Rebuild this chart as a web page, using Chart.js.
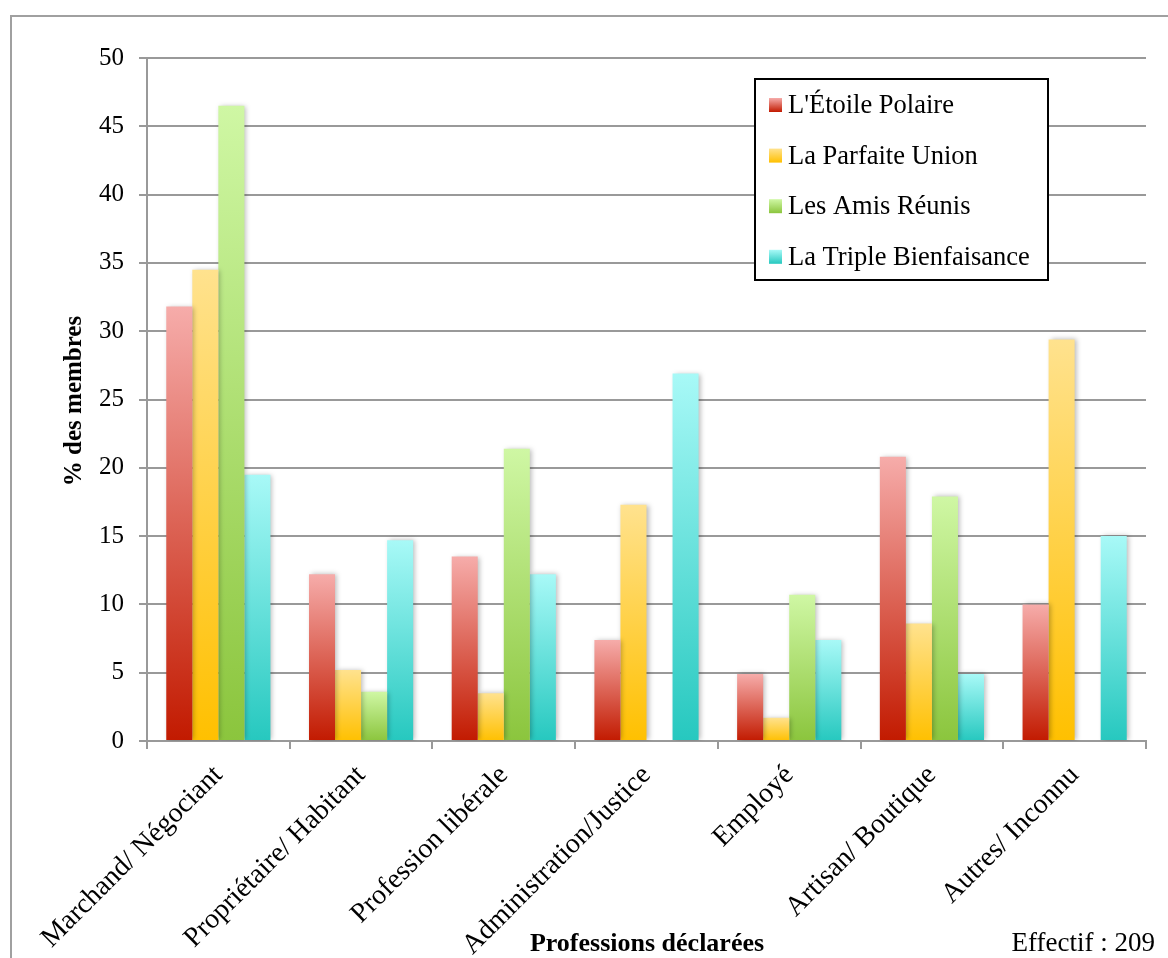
<!DOCTYPE html>
<html>
<head>
<meta charset="utf-8">
<script src="https://cdn.jsdelivr.net/npm/chart.js@4.4.1/dist/chart.umd.min.js"></script>
<style>
  body { margin: 0; background: #fff; }
  canvas { display: block; }
</style>
</head>
<body>
<canvas id="chart" width="1168" height="958"></canvas>
<script>
const categories = ['Marchand/ Négociant', 'Propriétaire/ Habitant', 'Profession libérale',
  'Administration/Justice', 'Employé', 'Artisan/ Boutique', 'Autres/ Inconnu'];
const seriesNames = ["L'Étoile Polaire", 'La Parfaite Union', 'Les Amis Réunis', 'La Triple Bienfaisance'];
const etoilePolaire = [31.8, 12.2, 13.5, 7.4, 4.9, 20.8, 10.0];
const parfaiteUnion = [34.5, 5.2, 3.5, 17.3, 1.7, 8.6, 29.4];
const amisReunis = [46.5, 3.6, 21.4, 0, 10.7, 17.9, 0];
const tripleBienfaisance = [19.5, 14.7, 12.2, 26.9, 7.4, 4.9, 15.0];
const yMin = 0, yMax = 50, yStep = 5;

// light (top) and dark (bottom) colour for each series
const colors = [
  ['#F6ACAA', '#C21A00'],
  ['#FFE28E', '#FFC000'],
  ['#CFF7A4', '#8BC53D'],
  ['#A8F9F7', '#26C8BF']
];

const FONT = "'Liberation Serif', 'DejaVu Serif', serif";

function barGradient(i) {
  return (ctx) => {
    const chart = ctx.chart;
    if (!chart.chartArea || ctx.type !== 'data') return colors[i][1];
    const y = chart.scales.y;
    const top = y.getPixelForValue(ctx.raw);
    const bottom = y.getPixelForValue(0);
    if (bottom - top < 1) return colors[i][1];
    const g = chart.ctx.createLinearGradient(0, top, 0, bottom);
    g.addColorStop(0, colors[i][0]);
    g.addColorStop(1, colors[i][1]);
    return g;
  };
}

const barShadow = {
  id: 'barShadow',
  beforeDatasetsDraw(chart) {
    const c = chart.ctx;
    c.save();
    c.shadowColor = 'rgba(0,0,0,0.28)';
    c.shadowBlur = 5;
    c.shadowOffsetX = 2;
    c.shadowOffsetY = 0;
  },
  afterDatasetsDraw(chart) {
    chart.ctx.restore();
  }
};

const decorations = {
  id: 'decorations',
  beforeDraw(chart) {
    const c = chart.ctx;
    c.save();
    c.strokeStyle = '#a0a0a0';
    c.lineWidth = 2;
    c.beginPath();
    c.moveTo(11, 958);
    c.lineTo(11, 16);
    c.lineTo(1168, 16);
    c.stroke();
    c.restore();
  },
  afterDraw(chart) {
    const c = chart.ctx;
    c.save();
    // legend box
    c.fillStyle = '#fff';
    c.fillRect(755, 79, 293, 201);
    c.strokeStyle = '#000';
    c.lineWidth = 2;
    c.strokeRect(755, 79, 293, 201);
    c.font = '26.5px ' + FONT;
    c.textBaseline = 'middle';
    c.textAlign = 'left';
    seriesNames.forEach((name, i) => {
      const y = 105 + i * 50.6;
      const g = c.createLinearGradient(0, y - 7, 0, y + 7);
      g.addColorStop(0, colors[i][0]);
      g.addColorStop(1, colors[i][1]);
      c.fillStyle = g;
      c.fillRect(769, y - 7, 13, 14);
      c.fillStyle = '#000';
      c.fillText(name, 788, y + 1);
    });
    // axis titles
    c.font = 'bold 26px ' + FONT;
    c.textAlign = 'center';
    c.fillText('Professions déclarées', 647, 944);
    c.font = 'bold 25px ' + FONT;
    c.translate(75, 401);
    c.rotate(-Math.PI / 2);
    c.fillText('% des membres', 0, 0);
    c.restore();
    c.save();
    c.font = '27px ' + FONT;
    c.textAlign = 'right';
    c.textBaseline = 'middle';
    c.fillStyle = '#000';
    c.fillText('Effectif : 209', 1155, 944);
    c.restore();
  }
};

const seriesData = [etoilePolaire, parfaiteUnion, amisReunis, tripleBienfaisance];

new Chart(document.getElementById('chart'), {
  type: 'bar',
  data: {
    labels: categories,
    datasets: seriesData.map((d, i) => ({
      label: seriesNames[i],
      data: d,
      backgroundColor: barGradient(i),
      borderWidth: 0,
      categoryPercentage: 0.73,
      barPercentage: 1.0
    }))
  },
  options: {
    responsive: false,
    animation: false,
    devicePixelRatio: 1,
    layout: { padding: { top: 58, right: 22, left: 0, bottom: 0 } },
    plugins: {
      legend: { display: false },
      tooltip: { enabled: false }
    },
    scales: {
      x: {
        afterFit(scale) { scale.height = 217; },
        grid: {
          offset: true,
          drawOnChartArea: false,
          drawTicks: true,
          tickLength: 8,
          color: '#999',
          lineWidth: 2
        },
        border: { color: '#999', width: 2 },
        ticks: {
          color: '#000',
          font: { family: FONT, size: 28 },
          minRotation: 45,
          maxRotation: 45,
          autoSkip: false,
          padding: 10
        }
      },
      y: {
        min: yMin,
        max: yMax,
        afterFit(scale) { scale.width = 147; },
        grid: { color: '#999', lineWidth: 2, tickLength: 8 },
        border: { color: '#999', width: 2 },
        ticks: {
          stepSize: yStep,
          color: '#000',
          font: { family: FONT, size: 25 },
          padding: 15
        }
      }
    }
  },
  plugins: [barShadow, decorations]
});
</script>
</body>
</html>
